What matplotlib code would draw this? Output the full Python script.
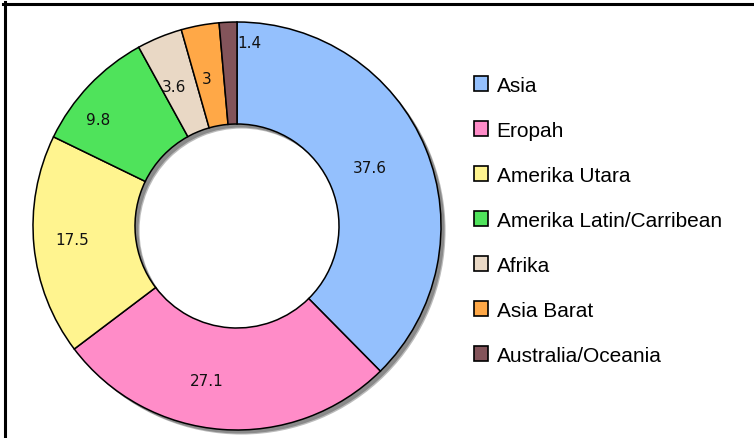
import numpy as np
import matplotlib.pyplot as plt
from matplotlib.patches import Wedge, Patch
from matplotlib.lines import Line2D

regions = ['Asia', 'Eropah', 'Amerika Utara', 'Amerika Latin/Carribean',
           'Afrika', 'Asia Barat', 'Australia/Oceania']
values = [37.6, 27.1, 17.5, 9.8, 3.6, 3, 1.4]
value_labels = ['37.6', '27.1', '17.5', '9.8', '3.6', '3', '1.4']
colors = ['#94C0FD', '#FF8CC8', '#FFF48F', '#4FE35B', '#E9D8C5', '#FFA847', '#83545A']

# label placement (radius fraction, angle tweak in degrees)
lab_r = [0.71, 0.77, 0.81, 0.86, 0.75, 0.74, 0.90]
lab_da = [1.5, -7, -1, 6, 2, 1, -6.5]

W, H = 754, 439
fig = plt.figure(figsize=(W / 100, H / 100), dpi=100)

R = 204.0
cx, cy = 237, H - 227
half = 1.1 * R
ax = fig.add_axes([(cx - half) / W, (cy - half) / H, 2 * half / W, 2 * half / H])

# soft shadow behind the ring
off = 3.5 / R
for k, c in enumerate(['#bbbbbb', '#8a8a8a']):
    d = off * (1.3 if k == 0 else 1.0)
    ax.add_patch(Wedge((d, -d), 1.0, 0, 360, width=0.5, facecolor=c,
                       edgecolor='none', zorder=0))

wedges, _ = ax.pie(values, colors=colors, startangle=90, counterclock=False,
                   radius=1.0, wedgeprops=dict(width=0.5, edgecolor='black',
                                               linewidth=1.1))
for w in wedges:
    w.set_zorder(2)
ax.set_xlim(-1.1, 1.1)
ax.set_ylim(-1.1, 1.1)
ax.set_aspect('equal')
ax.axis('off')

cum = np.cumsum([0] + values[:-1])
for i, v in enumerate(values):
    mid = 90 - (cum[i] + v / 2) * 3.6 + lab_da[i]
    ang = np.deg2rad(mid)
    ax.text(lab_r[i] * np.cos(ang), lab_r[i] * np.sin(ang), value_labels[i],
            ha='center', va='center', fontsize=11, color='#111111', zorder=5)

handles = [Patch(facecolor=c, edgecolor='black', linewidth=1.2) for c in colors]
fig.legend(handles, regions, loc='upper left', bbox_to_anchor=(455 / W, 1 - 58 / H),
           frameon=False, handlelength=0.7, handleheight=0.7,
           handletextpad=0.4, labelspacing=1.25,
           prop={'family': 'Liberation Sans', 'size': 15})

# outer frame (only top and left edges are visible in the crop)
fig.add_artist(Line2D([3 / W, 1], [1 - 4.5 / H, 1 - 4.5 / H], color='black',
                      linewidth=2.2, transform=fig.transFigure))
fig.add_artist(Line2D([4.5 / W, 4.5 / W], [0, 1 - 3 / H], color='black',
                      linewidth=2.2, transform=fig.transFigure))

fig.savefig('out.png', dpi=100)
